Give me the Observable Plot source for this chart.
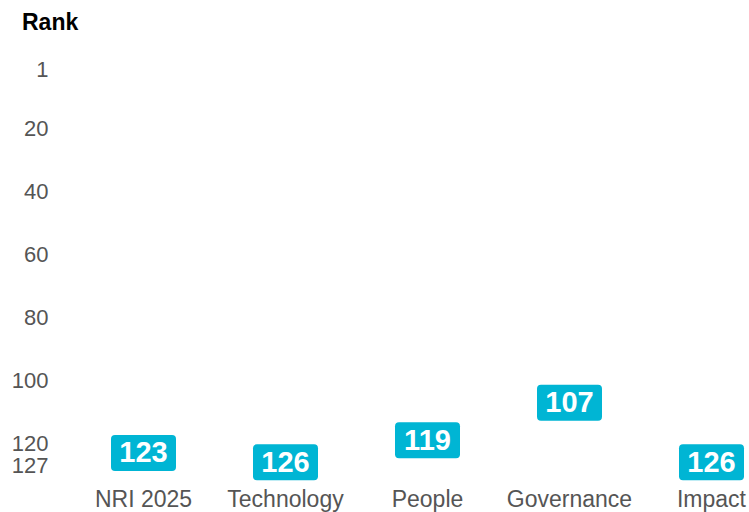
<!DOCTYPE html>
<html><head><meta charset="utf-8">
<script src="https://cdn.jsdelivr.net/npm/d3@7"></script>
<script src="https://cdn.jsdelivr.net/npm/@observablehq/plot@0.6"></script>
<style>
body{margin:0;background:#fff;font-family:"Liberation Sans",Arial,Helvetica,sans-serif}
#title{height:29px;padding:11px 0 0 22px;font-size:23px;font-weight:bold;line-height:22px;color:#000}
</style></head><body>
<div id="title">Rank</div>
<div id="chart"></div>
<script>
const pillars = ["NRI 2025", "Technology", "People", "Governance", "Impact"];
const ranks = [123, 126, 119, 107, 126];
const rankTicks = [1, 20, 40, 60, 80, 100, 120, 127];
const data = pillars.map((p, i) => ({pillar: p, rank: ranks[i]}));

const pill = {
  draw(ctx) {
    const w = 32.5, h = 18, r = 4;
    ctx.moveTo(-w + r, -h);
    ctx.lineTo(w - r, -h);
    ctx.arcTo(w, -h, w, -h + r, r);
    ctx.lineTo(w, h - r);
    ctx.arcTo(w, h, w - r, h, r);
    ctx.lineTo(-w + r, h);
    ctx.arcTo(-w, h, -w, h - r, r);
    ctx.lineTo(-w, -h + r);
    ctx.arcTo(-w, -h, -w + r, -h, r);
    ctx.closePath();
  }
};

const chart = Plot.plot({
  width: 749,
  height: 472,
  marginTop: 29,
  marginBottom: 47,
  marginLeft: 50,
  marginRight: 0,
  style: {fontSize: "22px", color: "#555", fontFamily: "'Liberation Sans', Arial, Helvetica, sans-serif", background: "#fff"},
  x: {type: "point", domain: pillars, range: [141, 712], padding: 0, label: null},
  y: {domain: [1, 127], reverse: true, label: null},
  marks: [
    Plot.axisY({ticks: rankTicks, tickSize: 0, tickPadding: 2, fontSize: 22, label: null}),
    Plot.axisX({tickSize: 0, tickPadding: 25, fontSize: 23, label: null}),
    Plot.dot(data, {x: "pillar", y: "rank", symbol: pill, fill: "#00b5d4", stroke: "none", r: 10}),
    Plot.text(data, {x: "pillar", y: "rank", text: d => String(d.rank), fill: "white", fontSize: 29, fontWeight: "bold"})
  ]
});
document.getElementById("chart").appendChild(chart);
</script>
</body></html>
